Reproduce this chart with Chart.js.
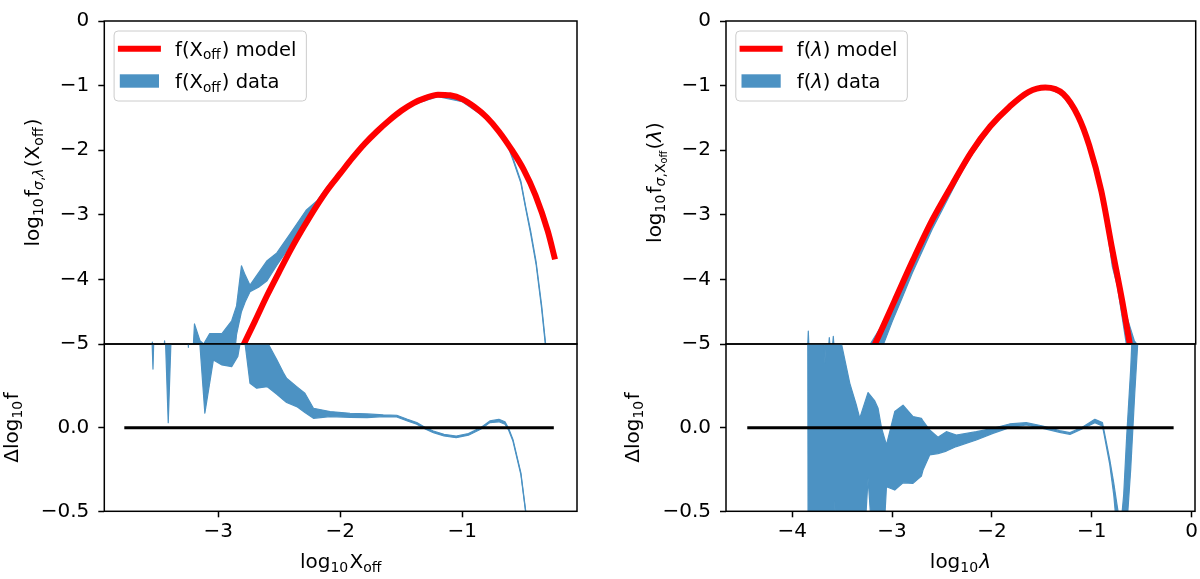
<!DOCTYPE html>
<html>
<head>
<meta charset="utf-8">
<title>f(Xoff) and f(lambda) model vs data</title>
<script src="https://cdn.jsdelivr.net/npm/chart.js@4.4.1/dist/chart.umd.min.js"></script>
<style>
  body { margin: 0; background: #fff; }
  #wrap { position: relative; width: 1200px; height: 579px; }
  #wrap canvas { position: absolute; left: 0; top: 0; }
</style>
</head>
<body>
<div id="wrap">
  <canvas id="xoffTop" width="1200" height="579"></canvas>
  <canvas id="xoffRes" width="1200" height="579"></canvas>
  <canvas id="lamTop" width="1200" height="579"></canvas>
  <canvas id="lamRes" width="1200" height="579"></canvas>
</div>
<script>
// ---- left panel: f(Xoff) ----
var xoffModelX = [-2.90,-2.80,-2.70,-2.60,-2.50,-2.40,-2.30,-2.20,-2.10,-2.00,-1.90,-1.80,-1.70,-1.60,-1.50,-1.40,-1.30,-1.20,-1.10,-1.00,-0.90,-0.80,-0.70,-0.60,-0.50,-0.40,-0.30,-0.24];
var xoffModelY = [-5.42,-5.04,-4.65,-4.25,-3.88,-3.52,-3.19,-2.88,-2.60,-2.36,-2.12,-1.90,-1.71,-1.54,-1.39,-1.27,-1.19,-1.14,-1.15,-1.21,-1.33,-1.49,-1.71,-1.98,-2.29,-2.70,-3.25,-3.69];

var xoffDataX  = [-3.70,-3.56,-3.54,-3.52,-3.46,-3.44,-3.42,-3.22,-3.195,-3.15,-3.12,-3.07,-2.97,-2.89,-2.85,-2.81,-2.78,-2.74,-2.67,-2.60,-2.52,-2.41,-2.28,-2.19,-2.10,-2.00,-1.80,-1.60,-1.40,-1.20,-1.00,-0.80,-0.70,-0.63,-0.585,-0.52,-0.48,-0.44,-0.395,-0.35,-0.317,-0.29];
var xoffDataHi = [-5.6,-5.6,-4.97,-5.6,-5.6,-4.95,-5.6,-5.6,-4.69,-4.95,-5.0,-4.84,-4.84,-4.64,-4.41,-3.79,-3.93,-4.09,-3.90,-3.71,-3.59,-3.29,-2.93,-2.78,-2.55,-2.33,-1.88,-1.52,-1.25,-1.13,-1.21,-1.47,-1.69,-1.89,-2.12,-2.48,-2.88,-3.25,-3.73,-4.40,-5.0,-5.5];
var xoffDataLo = [-5.6,-5.6,-5.6,-5.6,-5.6,-5.6,-5.6,-5.6,-5.6,-5.6,-5.6,-5.6,-5.6,-5.6,-4.85,-4.50,-4.35,-4.19,-4.12,-4.02,-3.78,-3.48,-3.08,-2.85,-2.60,-2.38,-1.92,-1.56,-1.29,-1.17,-1.25,-1.51,-1.73,-1.92,-2.15,-2.51,-2.91,-3.29,-3.77,-4.45,-5.05,-5.6];

var xoffResX  = [-3.70,-3.56,-3.535,-3.515,-3.45,-3.41,-3.37,-3.26,-3.245,-3.23,-3.19,-3.11,-3.04,-2.97,-2.89,-2.84,-2.81,-2.78,-2.74,-2.685,-2.60,-2.59,-2.52,-2.467,-2.44,-2.357,-2.29,-2.22,-2.084,-1.92,-1.78,-1.647,-1.537,-1.45,-1.373,-1.30,-1.237,-1.15,-1.05,-0.95,-0.85,-0.774,-0.70,-0.65,-0.62,-0.585,-0.52,-0.48,-0.44];
var xoffResHi = [0.9,0.9,0.9,0.9,0.9,0.9,0.9,0.9,0.9,0.9,0.9,0.9,0.9,0.9,0.9,0.9,0.9,0.9,0.9,0.9,0.56,0.5,0.405,0.33,0.295,0.245,0.206,0.116,0.096,0.086,0.082,0.076,0.074,0.05,0.031,0.0,-0.02,-0.04,-0.05,-0.035,0.0,0.04,0.05,0.035,-0.005,-0.07,-0.27,-0.5,-0.7];
var xoffResLo = [0.9,0.9,0.35,0.9,0.9,0.03,0.9,0.9,0.48,0.9,0.9,0.086,0.405,0.375,0.365,0.425,0.55,0.50,0.266,0.236,0.245,0.24,0.20,0.166,0.15,0.126,0.09,0.056,0.066,0.062,0.06,0.066,0.064,0.04,0.021,-0.01,-0.03,-0.05,-0.06,-0.045,-0.01,0.03,0.035,0.02,-0.015,-0.08,-0.28,-0.51,-0.71];
var xoffZeroX = [-3.77, -0.25];

// ---- right panel: f(lambda) ----
var lamModelX = [-3.25,-3.17,-2.98,-2.79,-2.60,-2.40,-2.21,-2.02,-1.83,-1.64,-1.47,-1.29,-1.14,-1.03,-0.91,-0.80,-0.70,-0.625,-0.59];
var lamModelY = [-5.25,-4.99,-4.34,-3.69,-3.08,-2.53,-2.03,-1.63,-1.33,-1.10,-1.03,-1.13,-1.48,-1.93,-2.63,-3.54,-4.34,-5.0,-5.32];

var lamDataX  = [-3.90,-3.86,-3.84,-3.82,-3.66,-3.63,-3.61,-3.59,-3.56,-3.30,-3.22,-3.10,-3.00,-2.90,-2.80,-2.70,-2.60,-2.50,-2.40,-2.30,-2.20,-2.00,-1.80,-1.60,-1.45,-1.30,-1.15,-1.00,-0.95,-0.90,-0.80,-0.75,-0.70,-0.66,-0.62,-0.58,-0.53,-0.50];
var lamDataHi = [-5.6,-5.6,-4.80,-5.6,-5.6,-4.90,-5.3,-4.88,-5.6,-5.6,-5.0,-4.70,-4.40,-4.08,-3.73,-3.42,-3.09,-2.81,-2.53,-2.26,-2.01,-1.60,-1.29,-1.07,-1.02,-1.11,-1.45,-2.05,-2.35,-2.67,-3.60,-3.90,-4.30,-4.55,-4.75,-4.95,-5.05,-5.6];
var lamDataLo = [-5.6,-5.6,-5.6,-5.6,-5.6,-5.6,-5.6,-5.6,-5.6,-5.6,-5.6,-5.05,-4.65,-4.28,-3.90,-3.56,-3.22,-2.92,-2.62,-2.32,-2.06,-1.63,-1.31,-1.09,-1.04,-1.14,-1.48,-2.09,-2.39,-2.71,-3.80,-4.10,-4.60,-5.0,-5.4,-5.8,-6.0,-6.0];

var lamResX  = [-3.90,-3.845,-3.84,-3.70,-3.673,-3.64,-3.59,-3.573,-3.55,-3.506,-3.423,-3.36,-3.323,-3.30,-3.24,-3.173,-3.14,-3.106,-3.056,-2.973,-2.89,-2.79,-2.706,-2.69,-2.623,-2.54,-2.456,-2.356,-2.156,-1.99,-1.823,-1.656,-1.49,-1.323,-1.218,-1.103,-0.969,-0.893,-0.873,-0.82,-0.78,-0.75,-0.71,-0.68,-0.65,-0.61,-0.57,-0.53,-0.50];
var lamResHi = [0.9,0.9,0.9,0.9,0.385,0.9,0.9,0.9,0.9,0.5,0.265,0.14,0.056,0.10,0.21,0.16,0.116,0.0,-0.103,0.096,0.134,0.066,0.056,0.04,-0.014,-0.057,-0.024,-0.044,-0.024,-0.004,0.022,0.03,0.01,-0.018,-0.03,0.0,0.05,0.03,-0.03,-0.19,-0.33,-0.45,-0.60,-0.40,-0.05,0.35,0.9,0.9,0.9];
var lamResLo = [0.9,0.9,-0.9,-0.9,-0.9,-0.9,-0.9,-0.44,-0.9,-0.9,-0.9,-0.9,-0.9,-0.9,-0.303,-0.9,-0.9,-0.9,-0.353,-0.373,-0.33,-0.333,-0.29,-0.253,-0.163,-0.155,-0.14,-0.113,-0.074,-0.034,0.0,0.016,-0.004,-0.028,-0.04,-0.01,0.03,0.01,-0.05,-0.22,-0.40,-0.60,-0.9,-0.9,-0.60,-0.25,0.2,0.6,0.9];
var lamZeroX = [-4.45, -0.18];

var zeroY = [0, 0];

// ticks
var yTicksTop = [0, -1, -2, -3, -4, -5];
var yTicksRes = [0.0, -0.5];
var xTicksXoff = [-3, -2, -1];
var xTicksLam = [-4, -3, -2, -1, 0];

var RED = '#ff0000';
var BLUE = 'rgb(76,146,195)';
var FONT = '"DejaVu Sans"';

Chart.defaults.font.family = FONT;
Chart.defaults.font.size = 20;
Chart.defaults.color = '#000';

function pts(xs, ys) {
    return xs.map(function(x, i){ return {x: x, y: ys[i]}; });
}

function fmt(v, dec) {
    var s = Math.abs(v).toFixed(dec);
    return (v < 0 && Number(s) !== 0) ? '\u2212' + s : s;
}

// tiny mathtext-like renderer: a_{b} makes subscripts, greek lowercase italic
function parseRich(s, lvl, out) {
    lvl = lvl || 0; out = out || [];
    var buf = '';
    function flush(){ if (buf) { out.push({t: buf, lvl: lvl}); buf = ''; } }
    for (var i = 0; i < s.length; i++) {
        var c = s[i];
        if (c === '_') {
            flush();
            if (s[i+1] === '{') {
                var depth = 0, j = i + 1;
                for (; j < s.length; j++) {
                    if (s[j] === '{') depth++;
                    else if (s[j] === '}') { depth--; if (!depth) break; }
                }
                parseRich(s.slice(i + 2, j), lvl + 1, out);
                i = j;
            } else {
                out.push({t: s[i+1], lvl: lvl + 1});
                i++;
            }
        } else {
            buf += c;
        }
    }
    flush();
    return out;
}

function richRuns(ctx, s, S) {
    var runs = [];
    var prev = 0;
    parseRich(s).forEach(function(seg){
        var size = S * Math.pow(0.7, seg.lvl);
        var dy = 0;
        for (var k = 1; k <= seg.lvl; k++) dy += 0.2 * S * Math.pow(0.7, k - 1);
        var gap = (seg.lvl < prev) ? 0.06 * S : 0;
        prev = seg.lvl;
        (seg.t.match(/[α-ω]+|[^α-ω]+/g) || []).forEach(function(t, n){
            var font = (/[α-ω]/.test(t) ? 'italic ' : '') + size + 'px ' + FONT;
            ctx.font = font;
            runs.push({t: t, font: font, dy: dy, gap: n === 0 ? gap : 0, w: ctx.measureText(t).width});
        });
    });
    return runs;
}

function drawRich(ctx, s, x, y, S, angle, align) {
    var runs = richRuns(ctx, s, S);
    var w = runs.reduce(function(a, r){ return a + r.w + r.gap; }, 0);
    ctx.save();
    ctx.translate(x, y);
    ctx.rotate(angle);
    ctx.textBaseline = 'alphabetic';
    ctx.textAlign = 'left';
    var cx = align === 'center' ? -w / 2 : 0;
    runs.forEach(function(r){
        cx += r.gap;
        ctx.font = r.font;
        ctx.fillText(r.t, cx, r.dy);
        cx += r.w;
    });
    ctx.restore();
    return w;
}

function roundRect(ctx, x, y, w, h, r) {
    ctx.beginPath();
    ctx.moveTo(x + r, y);
    ctx.lineTo(x + w - r, y);
    ctx.quadraticCurveTo(x + w, y, x + w, y + r);
    ctx.lineTo(x + w, y + h - r);
    ctx.quadraticCurveTo(x + w, y + h, x + w - r, y + h);
    ctx.lineTo(x + r, y + h);
    ctx.quadraticCurveTo(x, y + h, x, y + h - r);
    ctx.lineTo(x, y + r);
    ctx.quadraticCurveTo(x, y, x + r, y);
    ctx.closePath();
}

// frame, axis titles and legend
var decor = {
    id: 'decor',
    afterDatasetsDraw: function(chart, args, o) {
        var ctx = chart.ctx, a = chart.chartArea;
        ctx.save();
        ctx.strokeStyle = '#000';
        ctx.lineWidth = 1.5;
        ctx.strokeRect(a.left, a.top, a.right - a.left, a.bottom - a.top);
        ctx.fillStyle = '#000';
        if (o.yTitle) drawRich(ctx, o.yTitle, a.left - o.yOffset, (a.top + a.bottom) / 2, 20, -Math.PI / 2, 'center');
        if (o.xTitle) drawRich(ctx, o.xTitle, (a.left + a.right) / 2, a.bottom + 56.2, 20, 0, 'center');
        if (o.legend) {
            var bx = a.left + 9.8, by = a.top + 10, rows = [17.8, 50];
            var textX = bx + 61, maxW = 0;
            o.legend.forEach(function(it){
                maxW = Math.max(maxW, richRuns(ctx, chart.data.datasets[it.ds].label, 19.5)
                    .reduce(function(s, r){ return s + r.w + r.gap; }, 0));
            });
            roundRect(ctx, bx, by, textX + maxW + 10 - bx, 70, 4);
            ctx.fillStyle = 'rgba(255,255,255,0.8)';
            ctx.fill();
            ctx.strokeStyle = '#cccccc';
            ctx.lineWidth = 1;
            ctx.stroke();
            o.legend.forEach(function(it, i){
                var ds = chart.data.datasets[it.ds], cy = by + rows[i];
                if (it.kind === 'line') {
                    ctx.strokeStyle = ds.borderColor;
                    ctx.lineWidth = ds.borderWidth;
                    ctx.beginPath();
                    ctx.moveTo(bx + 3.8, cy);
                    ctx.lineTo(bx + 46.8, cy);
                    ctx.stroke();
                } else {
                    ctx.fillStyle = ds.backgroundColor;
                    ctx.fillRect(bx + 5.7, cy - 6.7, 39.2, 13.4);
                }
                ctx.fillStyle = '#000';
                drawRich(ctx, ds.label, textX, cy + 6.7, 19.5, 0, 'left');
            });
        }
        ctx.restore();
    }
};

function modelSet(xs, ys, label) {
    return { label: label, data: pts(xs, ys), borderColor: RED, borderWidth: 6,
             pointRadius: 0, cubicInterpolationMode: 'monotone', clip: 0, fill: false };
}

function bandSets(xs, hi, lo, label) {
    return [
        { label: label, data: pts(xs, hi), borderColor: BLUE, backgroundColor: BLUE,
          borderWidth: 1.2, borderJoinStyle: 'round', pointRadius: 0, tension: 0, clip: 0, fill: false },
        { label: label + ' lower', data: pts(xs, lo), borderColor: BLUE, backgroundColor: BLUE,
          borderWidth: 1.2, borderJoinStyle: 'round', pointRadius: 0, tension: 0, clip: 0, fill: '-1' }
    ];
}

function zeroSet(xs) {
    return { label: 'zero', data: pts(xs, zeroY), borderColor: '#000', borderWidth: 3,
             pointRadius: 0, clip: 0, fill: false };
}

function axis(min, max, ticks, dec, fit, pad) {
    return {
        type: 'linear', min: min, max: max,
        afterBuildTicks: function(s){ s.ticks = ticks.map(function(v){ return {value: v}; }); },
        afterFit: fit,
        ticks: { callback: function(v){ return fmt(v, dec); }, padding: pad, maxRotation: 0, autoSkip: false },
        grid: { drawOnChartArea: false, tickLength: 6, tickWidth: 1.5, tickColor: '#000' },
        border: { display: false }
    };
}

function panel(id, p) {
    var scales = {
        y: axis(p.yMin, p.yMax, p.yTicks, p.yDec, function(s){ s.width = p.left; }, 9)
    };
    if (p.xTicks) {
        scales.x = axis(p.xMin, p.xMax, p.xTicks, 0, function(s){ s.height = 579 - p.bottom; }, 2);
    } else {
        scales.x = { type: 'linear', min: p.xMin, max: p.xMax, display: false };
    }
    return new Chart(document.getElementById(id), {
        type: 'line',
        data: { datasets: p.datasets },
        options: {
            responsive: false,
            animation: false,
            events: [],
            layout: { padding: { left: 0, right: 1200 - p.right, top: p.top,
                                 bottom: p.xTicks ? 0 : 579 - p.bottom } },
            plugins: { legend: { display: false }, tooltip: { enabled: false }, decor: p.decor },
            scales: scales
        },
        plugins: [decor]
    });
}

panel('xoffTop', {
    left: 104.3, right: 577, top: 11.7, bottom: 344,
    xMin: -3.934, xMax: -0.06, yMin: -5, yMax: 0, yTicks: yTicksTop, yDec: 0,
    datasets: [modelSet(xoffModelX, xoffModelY, 'f(X_{off}) model')]
        .concat(bandSets(xoffDataX, xoffDataHi, xoffDataLo, 'f(X_{off}) data')),
    decor: { yTitle: 'log_{10}f_{σ,λ}(X_{off})', yOffset: 65.5,
             legend: [{ds: 0, kind: 'line'}, {ds: 1, kind: 'patch'}] }
});

panel('xoffRes', {
    left: 104.3, right: 577, top: 344, bottom: 511.3,
    xMin: -3.934, xMax: -0.06, xTicks: xTicksXoff, yMin: -0.5, yMax: 0.5, yTicks: yTicksRes, yDec: 1,
    datasets: [zeroSet(xoffZeroX)].concat(bandSets(xoffResX, xoffResHi, xoffResLo, 'residual')),
    decor: { yTitle: 'Δlog_{10}f', yOffset: 86.8, xTitle: 'log_{10}X_{off}' }
});

panel('lamTop', {
    left: 726, right: 1195.7, top: 11.7, bottom: 344,
    xMin: -4.663, xMax: 0.034, yMin: -5, yMax: 0, yTicks: yTicksTop, yDec: 0,
    datasets: [modelSet(lamModelX, lamModelY, 'f(λ) model')]
        .concat(bandSets(lamDataX, lamDataHi, lamDataLo, 'f(λ) data')),
    decor: { yTitle: 'log_{10}f_{σ,X_{off}}(λ)', yOffset: 65.5,
             legend: [{ds: 0, kind: 'line'}, {ds: 1, kind: 'patch'}] }
});

panel('lamRes', {
    left: 726, right: 1195.7, top: 344, bottom: 511.3,
    xMin: -4.663, xMax: 0.034, xTicks: xTicksLam, yMin: -0.5, yMax: 0.5, yTicks: yTicksRes, yDec: 1,
    datasets: [zeroSet(lamZeroX)].concat(bandSets(lamResX, lamResHi, lamResLo, 'residual')),
    decor: { yTitle: 'Δlog_{10}f', yOffset: 86.8, xTitle: 'log_{10}λ' }
});
</script>
</body>
</html>
